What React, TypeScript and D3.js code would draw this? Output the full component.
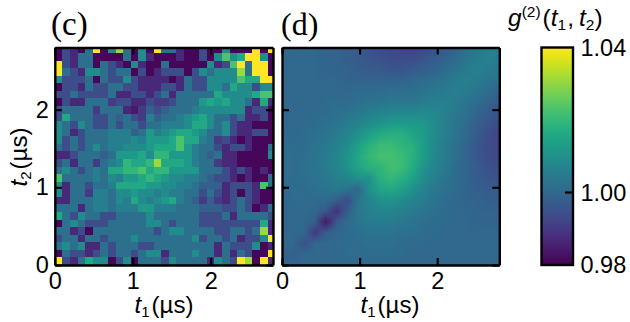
import * as d3 from "d3";
import { useEffect, useMemo, useRef } from "react";

const xTicks = [0, 1, 2];
const yTicks = [0, 1, 2];
const cbarTicks = [0.98, 1.0, 1.04];
const cbarLabels = ["0.98", "1.00", "1.04"];
const tMax = 2.8;
const binWidth = 0.0975; // measured bins, the last row/column runs past the axis
const smoothStep = 0.14;

const measuredClasses = [0.981, 0.987, 0.994, 1.002, 1.009, 1.016, 1.023, 1.031, 1.04];
const measuredRows = [
  [0, 2, 1, 0, 3, 8, 0, 4, 7, 3, 0, 4, 0, 8, 3, 3, 1, 0, 0, 2, 0, 0, 4, 0, 0, 0, 8, 0, 8],
  [0, 2, 1, 3, 3, 0, 0, 0, 0, 3, 0, 4, 1, 0, 0, 0, 1, 0, 0, 2, 0, 4, 6, 4, 5, 8, 8, 4, 0],
  [8, 2, 1, 3, 3, 0, 3, 2, 1, 0, 4, 1, 0, 0, 3, 0, 0, 0, 0, 0, 4, 1, 2, 6, 8, 3, 8, 8, 0],
  [8, 3, 2, 1, 4, 4, 3, 2, 3, 3, 0, 2, 0, 1, 2, 2, 2, 0, 2, 4, 3, 4, 4, 4, 7, 3, 8, 8, 0],
  [4, 2, 2, 2, 3, 0, 3, 2, 2, 4, 2, 1, 1, 1, 1, 0, 1, 3, 2, 2, 4, 4, 4, 4, 6, 5, 5, 8, 8],
  [0, 2, 2, 1, 3, 2, 2, 3, 3, 2, 2, 1, 1, 1, 2, 2, 1, 3, 2, 2, 4, 4, 3, 5, 4, 4, 2, 4, 4],
  [2, 2, 3, 2, 2, 2, 2, 3, 1, 1, 2, 2, 1, 2, 3, 1, 3, 3, 3, 3, 3, 5, 4, 4, 4, 4, 5, 6, 6],
  [0, 2, 1, 1, 3, 3, 3, 1.5, 2, 2, 1, 1, 2, 1.5, 1.5, 2, 3, 3, 3, 4.5, 5, 4.5, 5, 4, 4, 3, 1, 5, 1],
  [2, 3, 3, 3, 3, 1.5, 3, 3, 3, 1, 0.5, 1.5, 2.5, 2, 2.5, 3, 3, 3, 3.5, 4, 4, 4, 4, 4, 4, 1, 2, 2, 0],
  [2, 5, 3, 3, 3, 2, 2, 3, 2.5, 3, 2, 1.5, 3.5, 2.5, 3, 3, 3.5, 4, 4.5, 5, 4, 3, 3, 2, 3, 1, 1, 2, 0],
  [4, 3, 2, 4, 3, 2, 2, 3, 2, 3, 3, 2, 3, 3, 3.5, 3.5, 3.5, 4, 5, 5, 4, 3, 4, 2, 1, 1, 0, 0, 0],
  [4, 3, 1, 2, 3, 3, 3, 3.5, 3.5, 3.5, 2.5, 3, 4.5, 3.5, 4, 4.5, 5, 5, 4.5, 4, 3, 3, 4, 2, 1, 1, 2, 2, 0],
  [4, 2, 3, 2, 3, 3, 3, 3.5, 3.5, 3.5, 4, 3.5, 4.5, 4.5, 4.5, 5, 6, 5, 5, 3.5, 3, 1.5, 2, 1, 0, 1, 0, 0, 0],
  [3, 2, 3, 2, 3, 4, 3, 3.5, 3.5, 4, 4, 4, 4.5, 5, 5, 5, 6, 4.5, 3.5, 3, 3, 2, 1, 2, 2, 1, 0, 0, 3],
  [1, 1, 2, 3, 3, 3, 2.5, 3, 4.5, 4.5, 4.5, 5, 4, 5.5, 5.5, 4.5, 4.5, 4.5, 3.5, 3, 2.5, 3, 1, 1, 0, 0, 0, 0, 4],
  [2, 3, 1, 3, 3, 1.5, 3, 3.5, 4, 5.5, 5, 5, 5.5, 7, 5, 5, 5, 4.5, 3.5, 3, 3, 1.5, 1, 1, 0, 0, 0, 0, 0],
  [3, 4, 3, 2, 3, 3.5, 3, 5, 5, 5.5, 5.5, 6, 5, 5.5, 5.5, 4.5, 4.5, 4.5, 4.5, 3, 3, 3, 2, 1, 2, 1, 0, 1, 0],
  [6, 3, 3, 3, 3, 3.5, 3, 4, 3.5, 4.5, 4.5, 5, 5.5, 5, 4.5, 4, 4, 3.5, 3.5, 3, 2.5, 2, 2, 1, 0, 1, 0, 0, 3],
  [4, 1, 3, 3, 2, 3, 3, 3.5, 5, 5, 5, 5, 4.5, 4.5, 4, 4, 3.5, 3.5, 3, 2.5, 2.5, 2.5, 1, 2, 2, 2, 1, 6, 3],
  [4, 1, 3, 3, 1.5, 3.5, 3.5, 3, 4, 4, 4.5, 4, 4, 3.5, 4, 3.5, 3.5, 3, 3, 2, 3, 2, 1, 2, 0, 2, 1, 0, 0],
  [1, 1, 3, 3, 3, 3.5, 3.5, 3, 4, 3.5, 5, 4, 3.5, 4, 4.5, 5, 3.5, 3, 2.5, 1.5, 2.5, 1.5, 1, 2, 3, 2, 1, 0, 0],
  [3, 3, 3, 1, 3, 3.5, 3.5, 3, 3.5, 3.5, 3.5, 4.5, 4.5, 3.5, 3.5, 3.5, 3, 3, 3, 2.5, 2.5, 2.5, 2, 2, 3, 2, 0, 1, 3],
  [5, 3, 2, 4, 3, 3, 2, 2, 3, 3, 3, 3, 4, 3, 3, 3, 3, 3, 3, 2, 2, 2, 3, 1, 3, 3, 3, 3, 2],
  [0, 3, 4, 3, 2, 2, 2, 3, 3, 3, 3, 3, 4, 4, 3, 2, 3, 3, 3, 2, 2, 2, 2, 2, 2, 2, 2, 5, 1],
  [3, 3, 1, 2, 0, 3, 3, 3, 3, 3, 3, 3, 3, 2, 3, 4, 4, 3, 3, 3, 3, 2, 2, 3, 3, 2, 3, 7, 1],
  [2, 3, 3, 1, 3, 3, 2, 3, 3, 3, 4, 3, 3, 3, 3, 3, 3, 3, 4, 2, 3, 3, 2, 3, 1, 2, 2, 4, 8],
  [3, 4, 3, 4, 1, 1, 3, 2, 3, 3, 3, 2, 2, 3, 3, 3, 3, 3, 3, 3, 3, 1, 3, 2, 2, 2, 4, 0, 1],
  [0, 3, 2, 2, 1, 2, 3, 2, 3, 3, 2, 3, 4, 4, 1, 3, 3, 3, 4, 3, 3, 1, 3, 1, 3, 2, 0, 0, 8],
  [8, 2, 1, 3, 5, 4, 4, 0, 2, 4, 0, 3, 3, 3, 2, 4, 3, 3, 3, 3, 1, 4, 3, 2, 8, 7, 0, 8, 1],
];

// fitted panel, (g2 - 1) x 1000 on a 0.14 us grid, top row is t2 = 2.8
const smoothRows = [
  [0, 0, 0, 0, -1, -1, -2, -3, -5, -6, -7, -8, -8, -7, -5, -3, -1, 2, 4, 5, 6],
  [0, 0, 0, 0, -1, -1, -2, -3, -4, -5, -6, -6, -6, -4, -3, -1, 1, 3, 5, 6, 5],
  [0, 0, 0, 0, -1, -1, -1, -2, -3, -3, -4, -4, -3, -2, -1, 1, 3, 5, 6, 5, 4],
  [0, 0, 0, 0, 0, 0, -1, -1, -1, -1, -1, -1, 0, 1, 2, 3, 5, 6, 5, 3, 2],
  [0, 0, 0, 0, 0, 0, 0, 1, 1, 1, 2, 2, 2, 3, 4, 5, 6, 5, 3, 1, -1],
  [0, 0, 0, 0, 1, 1, 1, 2, 3, 3, 4, 4, 4, 5, 6, 6, 5, 3, 1, -1, -3],
  [0, 0, 0, 1, 1, 2, 3, 4, 6, 7, 8, 8, 8, 9, 8, 6, 4, 2, -1, -3, -5],
  [0, 0, 1, 1, 2, 3, 5, 7, 9, 11, 13, 13, 13, 12, 9, 6, 3, 1, -2, -4, -7],
  [1, 0, 1, 2, 3, 5, 7, 10, 14, 17, 18, 18, 15, 13, 9, 6, 3, 0, -3, -6, -8],
  [1, 1, 1, 3, 4, 6, 9, 14, 18, 21, 21, 19, 18, 13, 8, 5, 2, -1, -4, -6, -8],
  [1, 1, 2, 3, 5, 7, 11, 16, 20, 22, 22, 21, 18, 13, 8, 5, 2, -1, -4, -6, -7],
  [1, 1, 2, 3, 5, 7, 10, 15, 18, 19, 22, 21, 17, 11, 7, 4, 1, -1, -3, -5, -6],
  [1, 1, 2, 3, 4, 6, 7, 10, 10, 18, 20, 18, 14, 9, 6, 3, 1, -1, -3, -4, -5],
  [0, 1, 1, 2, 3, 4, 3, 0, 10, 15, 16, 14, 10, 7, 4, 2, 1, -1, -2, -3, -3],
  [0, 1, 1, 1, 1, -2, -6, 3, 7, 10, 11, 9, 7, 5, 3, 1, 0, -1, -1, -2, -2],
  [0, 0, 1, 0, -3, -12, -2, 4, 6, 7, 7, 6, 5, 3, 2, 1, 0, 0, -1, -1, -1],
  [0, 0, 0, -2, -16, -3, 1, 3, 5, 5, 5, 4, 3, 2, 1, 1, 0, 0, -1, -1, -1],
  [0, 0, 0, -10, -2, 0, 1, 2, 3, 3, 3, 2, 2, 1, 1, 0, 0, 0, 0, 0, 0],
  [0, 0, -5, 0, 0, 1, 1, 1, 2, 2, 2, 1, 1, 1, 0, 0, 0, 0, 0, 0, 0],
  [0, -2, 0, 0, 0, 0, 1, 1, 1, 1, 1, 1, 0, 0, 0, 0, 0, 0, 0, 0, 0],
  [0, 0, 0, 0, 0, 0, 0, 0, 0, 0, 0, 0, 0, 0, 0, 0, 0, 0, 0, 0, 0],
];

const sans = "'Liberation Sans', Arial, sans-serif";
const serif = "'Liberation Serif', serif";
const tickFont = 23.5;
const top = 47.5;
const bottom = 265;

const color = d3.scaleSequential(d3.interpolateViridis).domain([0.98, 1.04]);
const classToG2 = d3.scaleLinear<number>().domain(measuredClasses.map((_, i) => i)).range(measuredClasses);

function Frame({ x, y, showLabels }: any) {
  const bottomRef = useRef<SVGGElement>(null);
  const leftRef = useRef<SVGGElement>(null);
  const topRef = useRef<SVGGElement>(null);
  const rightRef = useRef<SVGGElement>(null);

  useEffect(() => {
    const style = (g: any) => {
      g.selectAll(".domain").attr("stroke", "#000").attr("stroke-width", 2.4);
      g.selectAll(".tick line").attr("stroke", "#000").attr("stroke-width", 2.2);
      g.selectAll("text")
        .attr("font-family", sans)
        .attr("font-size", tickFont)
        .attr("fill", "#000");
    };
    d3.select(bottomRef.current)
      .call(d3.axisBottom(x).tickValues(xTicks).tickFormat(d3.format("d")).tickSize(-7).tickSizeOuter(0).tickPadding(7) as any)
      .call(style);
    d3.select(leftRef.current)
      .call(
        d3.axisLeft(y).tickValues(yTicks).tickFormat(showLabels ? d3.format("d") : () => "").tickSize(-7).tickSizeOuter(0).tickPadding(6) as any
      )
      .call(style);
    d3.select(topRef.current)
      .call(d3.axisTop(x).tickValues(xTicks).tickFormat(() => "").tickSize(-7).tickSizeOuter(0) as any)
      .call(style);
    d3.select(rightRef.current)
      .call(d3.axisRight(y).tickValues(yTicks).tickFormat(() => "").tickSize(-7).tickSizeOuter(0) as any)
      .call(style);
  }, [x, y, showLabels]);

  return (
    <g>
      <g ref={bottomRef} transform={`translate(0,${y.range()[0]})`} />
      <g ref={leftRef} transform={`translate(${x.range()[0]},0)`} />
      <g ref={topRef} transform={`translate(0,${y.range()[1]})`} />
      <g ref={rightRef} transform={`translate(${x.range()[1]},0)`} />
    </g>
  );
}

function TimeLabel({ x, y, sub, rotate }: any) {
  return (
    <text
      fontFamily={sans}
      fontSize={24}
      textAnchor="middle"
      transform={`translate(${x},${y})${rotate ? " rotate(-90)" : ""}`}
    >
      <tspan fontStyle="italic">t</tspan>
      <tspan fontSize={15} dy={4}>
        {sub}
      </tspan>
      <tspan dy={-4} dx={2}>
        (µs)
      </tspan>
    </text>
  );
}

function MeasuredPanel() {
  const x = d3.scaleLinear().domain([0, tMax]).range([54.8, 273]);
  const y = d3.scaleLinear().domain([0, tMax]).range([bottom, top]);
  const n = measuredRows.length;
  return (
    <g>
      <clipPath id="clip-c">
        <rect x={x(0)} y={y(tMax)} width={x(tMax) - x(0)} height={y(0) - y(tMax)} />
      </clipPath>
      <g clipPath="url(#clip-c)">
        {measuredRows.map((row, r) =>
          row.map((level, c) => {
            const t2 = (n - 1 - r) * binWidth;
            const t1 = c * binWidth;
            return (
              <rect
                key={`${r}-${c}`}
                x={x(t1)}
                y={y(t2 + binWidth)}
                width={x(t1 + binWidth) - x(t1)}
                height={y(t2) - y(t2 + binWidth)}
                fill={color(classToG2(level))}
                shapeRendering="crispEdges"
              />
            );
          })
        )}
      </g>
      <Frame x={x} y={y} showLabels />
      <TimeLabel x={164} y={313} sub="1" />
      <TimeLabel x={27} y={157} sub="2" rotate />
    </g>
  );
}

function SmoothPanel() {
  const x = d3.scaleLinear().domain([0, tMax]).range([282, 499.3]);
  const y = d3.scaleLinear().domain([0, tMax]).range([bottom, top]);
  const href = useMemo(() => {
    const n = smoothRows.length;
    const canvas = document.createElement("canvas");
    canvas.width = n;
    canvas.height = n;
    const ctx = canvas.getContext("2d")!;
    smoothRows.forEach((row, r) =>
      row.forEach((v, c) => {
        ctx.fillStyle = color(1 + v / 1000);
        ctx.fillRect(c, r, 1, 1);
      })
    );
    return canvas.toDataURL();
  }, []);
  const half = smoothStep / 2;
  return (
    <g>
      <clipPath id="clip-d">
        <rect x={x(0)} y={y(tMax)} width={x(tMax) - x(0)} height={y(0) - y(tMax)} />
      </clipPath>
      <g clipPath="url(#clip-d)">
        <image
          href={href}
          x={x(-half)}
          y={y(tMax + half)}
          width={x(tMax + half) - x(-half)}
          height={y(-half) - y(tMax + half)}
          preserveAspectRatio="none"
        />
      </g>
      <Frame x={x} y={y} showLabels={false} />
      <TimeLabel x={390} y={313} sub="1" />
    </g>
  );
}

function Colorbar() {
  const y = d3.scaleLinear().domain([0.98, 1.04]).range([bottom, top]);
  const stops = d3.range(0, 1.0001, 0.05);
  return (
    <g>
      <defs>
        <linearGradient id="viridis-bar" x1="0" x2="0" y1="1" y2="0">
          {stops.map((s) => (
            <stop key={s} offset={s} stopColor={d3.interpolateViridis(s)} />
          ))}
        </linearGradient>
      </defs>
      <rect
        x={541.5}
        y={top}
        width={31.5}
        height={bottom - top}
        fill="url(#viridis-bar)"
        stroke="#000"
        strokeWidth={2.4}
      />
      {cbarTicks.map((t, i) => (
        <g key={t}>
          {t === 1.0 && <line x1={565} x2={573} y1={y(t)} y2={y(t)} stroke="#000" strokeWidth={2.2} />}
          <text x={580.5} y={y(t) + 8.4} fontFamily={sans} fontSize={23.5}>
            {cbarLabels[i]}
          </text>
        </g>
      ))}
      <text x={508} y={26} fontFamily={sans} fontSize={24.5}>
        <tspan fontStyle="italic">g</tspan>
        <tspan fontSize={15.5} dy={-9}>
          (2)
        </tspan>
        <tspan dy={9} dx={2}>
          (
        </tspan>
        <tspan fontStyle="italic">t</tspan>
        <tspan fontSize={15.5} dy={4}>
          1
        </tspan>
        <tspan dy={-4} dx={1}>
          ,
        </tspan>
        <tspan fontStyle="italic" dx={5}>
          t
        </tspan>
        <tspan fontSize={15.5} dy={4}>
          2
        </tspan>
        <tspan dy={-4}>)</tspan>
      </text>
    </g>
  );
}

export default function App() {
  return (
    <svg
      width={630}
      height={322}
      style={{ position: "absolute", left: 0, top: 0, background: "#fff" }}
    >
      <MeasuredPanel />
      <SmoothPanel />
      <Colorbar />
      <text x={51} y={35} fontFamily={serif} fontSize={33}>
        (c)
      </text>
      <text x={281} y={35} fontFamily={serif} fontSize={32}>
        (d)
      </text>
    </svg>
  );
}
